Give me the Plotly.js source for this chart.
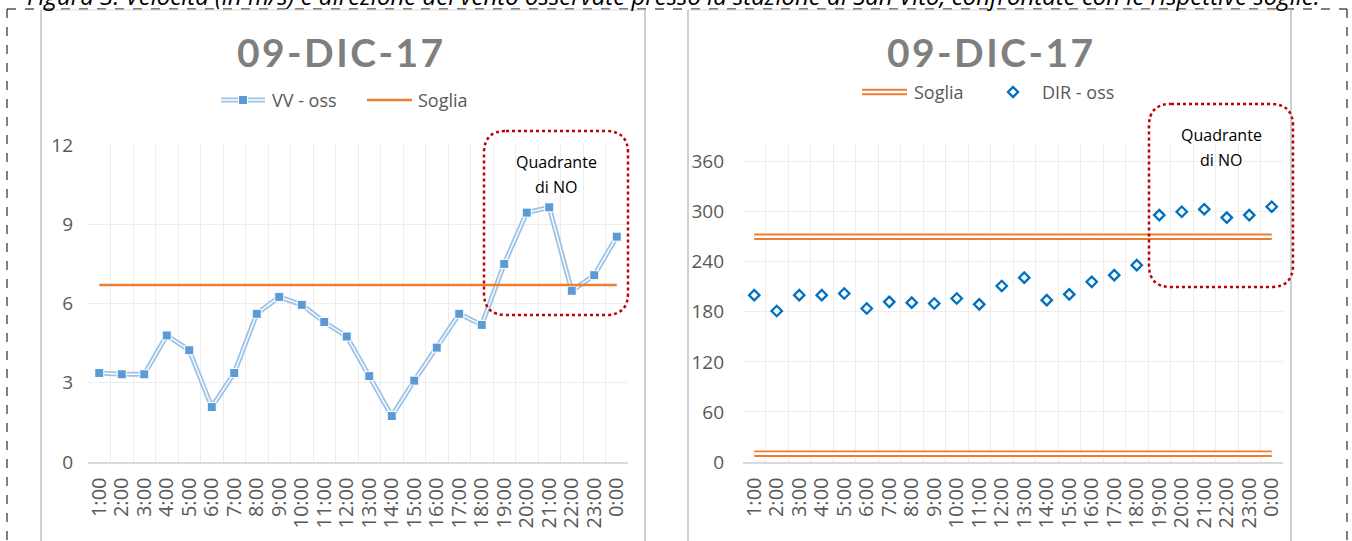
<!DOCTYPE html>
<html>
<head>
<meta charset="utf-8">
<script src="https://cdn.plot.ly/plotly-3.0.1.min.js"></script>
<style>html,body{margin:0;padding:0;background:#fff;}#chart{width:1352px;height:541px;}</style>
</head>
<body>
<div id="chart"></div>
<script>
// ---- data ----
const hours = ["1:00","2:00","3:00","4:00","5:00","6:00","7:00","8:00","9:00","10:00","11:00","12:00",
               "13:00","14:00","15:00","16:00","17:00","18:00","19:00","20:00","21:00","22:00","23:00","0:00"];
const vvOss = [3.37,3.32,3.32,4.79,4.23,2.08,3.37,5.61,6.25,5.95,5.30,4.75,
               3.25,1.74,3.08,4.33,5.61,5.19,7.50,9.44,9.64,6.48,7.07,8.53];
const sogliaVV = 6.7;
const dirOss = [200,181,200,200,202,184,192,191,190,196,189,211,
                221,194,201,216,224,236,296,300,303,293,296,306];
const sogliaDirHigh = 270;
const sogliaDirLow = 10;
const chartTitle = "09-DIC-17";
const caption = "Figura 3: Velocità (in m/s) e direzione del vento osservate presso la stazione di San Vito, confrontate con le rispettive soglie.";

// ---- layout helpers ----
const W = 1352, H = 541;
const px = x => x / W;
const py = y => 1 - y / H;
const FONT = "'Open Sans', Lato, sans-serif";
const TFONT = "Lato, 'Open Sans', sans-serif";
const GREY = "#595959";
const BLUE_L = "#9dc3e6", BLUE_M = "#5b9bd5", ORANGE = "#ed7d31", DIRBLUE = "#0070c0";

const ends = [hours[0], hours[hours.length - 1]];
const traces = [
  {x: hours, y: vvOss, xaxis: "x", yaxis: "y", mode: "lines", line: {color: BLUE_L, width: 5}, hoverinfo: "skip", showlegend: false},
  {x: hours, y: vvOss, xaxis: "x", yaxis: "y", mode: "lines+markers", name: "VV - oss",
   line: {color: "#ffffff", width: 1.4},
   marker: {symbol: "square", size: 9, color: BLUE_M, line: {color: "#ffffff", width: 1}}, showlegend: false},
  {x: ends, y: [sogliaVV, sogliaVV], xaxis: "x", yaxis: "y", mode: "lines", name: "Soglia",
   line: {color: ORANGE, width: 2.5}, showlegend: false},
  {x: ends, y: [sogliaDirHigh, sogliaDirHigh], xaxis: "x2", yaxis: "y2", mode: "lines", line: {color: ORANGE, width: 6.5}, showlegend: false, hoverinfo: "skip"},
  {x: ends, y: [sogliaDirHigh, sogliaDirHigh], xaxis: "x2", yaxis: "y2", mode: "lines", line: {color: "#ffffff", width: 2.6}, showlegend: false, hoverinfo: "skip"},
  {x: ends, y: [sogliaDirLow, sogliaDirLow], xaxis: "x2", yaxis: "y2", mode: "lines", line: {color: ORANGE, width: 6.5}, showlegend: false, hoverinfo: "skip"},
  {x: ends, y: [sogliaDirLow, sogliaDirLow], xaxis: "x2", yaxis: "y2", mode: "lines", line: {color: "#ffffff", width: 2.6}, showlegend: false, hoverinfo: "skip"},
  {x: hours, y: dirOss, xaxis: "x2", yaxis: "y2", mode: "markers", name: "DIR - oss",
   marker: {symbol: "diamond-open", size: 8, color: DIRBLUE, line: {color: DIRBLUE, width: 2.3}}, showlegend: false}
];

const xCommon = {
  type: "category", categoryorder: "array", categoryarray: hours, range: [-0.5, hours.length - 0.5],
  tickmode: "linear", tick0: 0, dtick: 1,
  tickson: "boundaries", ticks: "", showgrid: true, gridcolor: "#ededed", gridwidth: 1,
  showline: true, linecolor: "#d9d9d9", linewidth: 1.5, zeroline: false,
  tickangle: -90, tickfont: {family: FONT, size: 20, color: GREY}, ticklabelstandoff: 6,
  fixedrange: true
};
const yCommon = {
  showgrid: true, gridcolor: "#ededed", gridwidth: 1, zeroline: false, showline: false,
  ticks: "", tickfont: {family: FONT, size: 19, color: GREY}, fixedrange: true
};

function roundedRect(x0, y0, x1, y1, r) {
  const X = v => px(v), Y = v => py(v);
  return `M ${X(x0 + r)} ${Y(y0)} L ${X(x1 - r)} ${Y(y0)} Q ${X(x1)} ${Y(y0)} ${X(x1)} ${Y(y0 + r)} ` +
         `L ${X(x1)} ${Y(y1 - r)} Q ${X(x1)} ${Y(y1)} ${X(x1 - r)} ${Y(y1)} ` +
         `L ${X(x0 + r)} ${Y(y1)} Q ${X(x0)} ${Y(y1)} ${X(x0)} ${Y(y1 - r)} ` +
         `L ${X(x0)} ${Y(y0 + r)} Q ${X(x0)} ${Y(y0)} ${X(x0 + r)} ${Y(y0)} Z`;
}
function hline(x0, x1, y, color, width, dash) {
  return {type: "line", xref: "paper", yref: "paper", x0: px(x0), x1: px(x1), y0: py(y), y1: py(y),
          line: {color: color, width: width, dash: dash || "solid"}};
}
function vline(x, y0, y1, color, width, dash) {
  return {type: "line", xref: "paper", yref: "paper", x0: px(x), x1: px(x), y0: py(y0), y1: py(y1),
          line: {color: color, width: width, dash: dash || "solid"}};
}

const shapes = [
  // outer dashed frame
  hline(7, 1347, 9, "#000000", 1, "dash"),
  vline(7, 9, 560, "#000000", 1, "dash"),
  vline(1347, 9, 560, "#000000", 1, "dash"),
  // chart panels
  hline(41, 645, 10, "#dcdcdc", 1),
  vline(41, 10, 560, "#d0d0d0", 2),
  vline(645, 10, 560, "#d0d0d0", 2),
  hline(688, 1291, 10, "#dcdcdc", 1),
  vline(688, 10, 560, "#d0d0d0", 2),
  vline(1291, 10, 560, "#d0d0d0", 2),
  // quadrant boxes
  {type: "path", xref: "paper", yref: "paper", path: roundedRect(484, 131, 628, 315, 22),
   line: {color: "#c00000", width: 2.5, dash: "dot"}},
  {type: "path", xref: "paper", yref: "paper", path: roundedRect(1149, 104, 1293, 287, 22),
   line: {color: "#c00000", width: 2.5, dash: "dot"}},
  // legend left: VV - oss symbol
  hline(221, 265, 100, BLUE_L, 5),
  hline(221, 265, 100, "#ffffff", 1.4),
  {type: "rect", xref: "paper", yref: "paper", x0: px(238.5), x1: px(247.5), y0: py(95.5), y1: py(104.5),
   fillcolor: BLUE_M, line: {color: "#ffffff", width: 1}},
  // legend left: Soglia
  hline(367, 412, 100, ORANGE, 2.5),
  // legend right: Soglia double line
  hline(862, 907, 92, ORANGE, 6.5),
  hline(862, 907, 92, "#ffffff", 2.6),
  // legend right: DIR diamond
  {type: "path", xref: "paper", yref: "paper",
   path: `M ${px(1013)} ${py(87)} L ${px(1018)} ${py(92)} L ${px(1013)} ${py(97)} L ${px(1008)} ${py(92)} Z`,
   line: {color: DIRBLUE, width: 2.3}}
];

const spaced = s => s.split("").join("\u200A");
function ann(text, x, y, opts) {
  return Object.assign({text: text, xref: "paper", yref: "paper", x: px(x), y: py(y), showarrow: false,
    xanchor: "center", yanchor: "middle", font: {family: FONT, size: 16, color: GREY}}, opts || {});
}

const annotations = [
  ann("<i>" + caption + "</i>", 673, -4, {font: {family: FONT, size: 24, color: "#000000"}}),
  ann("<b>" + spaced(chartTitle) + "</b>", 340, 52, {font: {family: TFONT, size: 39, color: "#7f7f7f"}}),
  ann("<b>" + spaced(chartTitle) + "</b>", 990, 52, {font: {family: TFONT, size: 39, color: "#7f7f7f"}}),
  ann("VV - oss", 270, 100, {xanchor: "left", font: {family: FONT, size: 18, color: GREY}}),
  ann("Soglia", 416, 100, {xanchor: "left", font: {family: FONT, size: 18, color: GREY}}),
  ann("Soglia", 912, 92, {xanchor: "left", font: {family: FONT, size: 18, color: GREY}}),
  ann("DIR - oss", 1040, 92, {xanchor: "left", font: {family: FONT, size: 18, color: GREY}}),
  ann("Quadrante", 556, 162, {font: {family: FONT, size: 16, color: "#000000"}}),
  ann("di NO", 556, 187, {font: {family: FONT, size: 16, color: "#000000"}}),
  ann("Quadrante", 1221, 135, {font: {family: FONT, size: 16, color: "#000000"}}),
  ann("di NO", 1221, 160, {font: {family: FONT, size: 16, color: "#000000"}})
];

const layout = {
  width: W, height: H, margin: {l: 0, r: 0, t: 0, b: 0},
  paper_bgcolor: "#ffffff", plot_bgcolor: "#ffffff",
  showlegend: false, hovermode: false,
  xaxis: Object.assign({}, xCommon, {domain: [px(88), px(628)], anchor: "y"}),
  yaxis: Object.assign({}, yCommon, {domain: [py(462), py(145)], range: [0, 12], dtick: 3, tick0: 0, anchor: "x", ticklabelstandoff: 14}),
  xaxis2: Object.assign({}, xCommon, {domain: [px(743), px(1283)], anchor: "y2"}),
  yaxis2: Object.assign({}, yCommon, {domain: [py(462), py(145)], range: [0, 380], dtick: 60, tick0: 0, anchor: "x2", ticklabelstandoff: 18}),
  shapes: shapes,
  annotations: annotations
};

Plotly.newPlot("chart", traces, layout, {staticPlot: true, displayModeBar: false});
</script>
</body>
</html>
